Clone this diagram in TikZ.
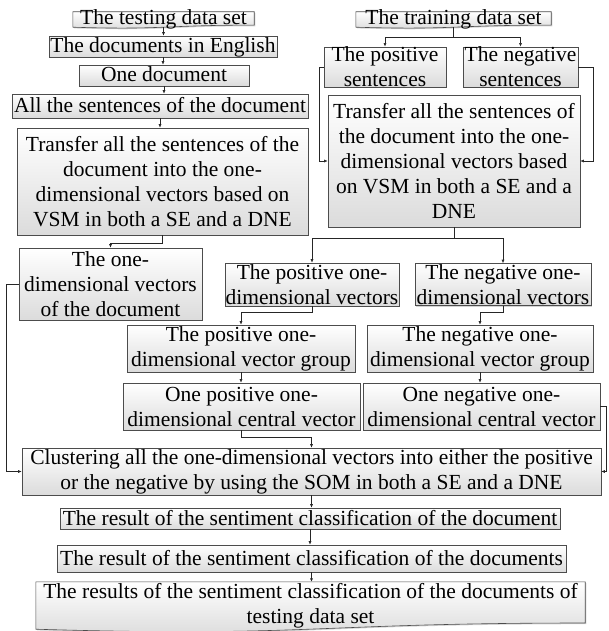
\documentclass[tikz,border=0pt]{standalone}
\usepackage{fontspec}
\setmainfont{Liberation Serif}
\usetikzlibrary{arrows.meta,shadows,backgrounds,calc}

\begin{document}
\begin{tikzpicture}[x=1pt, y=-1pt,
	every node/.style={font=\fontsize{21.5}{25}\selectfont, align=center, inner sep=0pt},
	box/.style={draw=black!70, line width=0.6pt, top color=white, bottom color=black!14,
		drop shadow={shadow xshift=1.2pt, shadow yshift=-1.2pt, opacity=0.35}},
	one/.style={text height=16pt, text depth=3pt},
	doc/.style={text height=13pt, text depth=2pt},
	line/.style={draw=black!85, line width=0.6pt, -{Latex[length=3.5pt,width=3pt]}}]
	\useasboundingbox (0,0) rectangle (608,631);
	
	\node[doc, minimum width=181, minimum height=15] (ts) at (163.5,19.5) {The testing data set};
	\node[box, one, minimum width=228, minimum height=21] (en) at (163,46.5) {The documents in English};
	\node[box, one, minimum width=170, minimum height=21] (od) at (164,75.5) {One document};
	\node[box, one, minimum width=296, minimum height=24] (al) at (160,106) {All the sentences of the document};
	\node[box, minimum width=291, minimum height=107] (tl) at (162.5,181.5) {Transfer all the sentences of the\\document into the one-\\dimensional vectors based on\\VSM in both a SE and a DNE};
	\node[box, minimum width=183, minimum height=72] (ov) at (110.5,284) {The one-\\dimensional vectors\\of the document};
	
	\node[doc, minimum width=195, minimum height=15] (tr) at (453.5,19.5) {The training data set};
	\node[box, minimum width=122, minimum height=40] (ps) at (385,67) {The positive\\sentences};
	\node[box, minimum width=115, minimum height=40] (ns) at (520.5,67) {The negative\\sentences};
	\node[box, minimum width=252, minimum height=132] (trr) at (454,161) {Transfer all the sentences of\\the document into the one-\\dimensional vectors based\\on VSM in both a SE and a\\DNE};
	\node[box, minimum width=174, minimum height=43] (pv) at (312,284.5) {The positive one-\\dimensional vectors};
	\node[box, minimum width=176, minimum height=42] (nv) at (503,284.5) {The negative one-\\dimensional vectors};
	\node[box, minimum width=228, minimum height=47] (pg) at (241,348.5) {The positive one-\\dimensional vector group};
	\node[box, minimum width=226, minimum height=47] (ng) at (480,348.5) {The negative one-\\dimensional vector group};
	\node[box, minimum width=237, minimum height=47] (pc) at (241.5,406.5) {One positive one-\\dimensional central vector};
	\node[box, minimum width=237, minimum height=47] (nc) at (481.5,406.5) {One negative one-\\dimensional central vector};
	
	\node[box, minimum width=579, minimum height=47] (cl) at (311.5,471.5) {Clustering all the one-dimensional vectors into either the positive\\or the negative by using the SOM in both a SE and a DNE};
	\node[box, one, minimum width=500, minimum height=21] (rd) at (310,518.5) {The result of the sentiment classification of the document};
	\node[box, one, minimum width=509, minimum height=27] (rs) at (311.5,558.5) {The result of the sentiment classification of the documents};
	\node[minimum width=549, minimum height=47] (rr) at (310.5,605.5) {The results of the sentiment classification of the documents of\\testing data set};
	
	\begin{scope}[on background layer]
		\foreach \n/\r/\p in {ts/2.1/2.8, tr/2.1/2.8, rr/6.2/8.1}
			\draw[box] (\n.north west) -- (\n.north east) -- ([yshift=\r pt]\n.south east)
				.. controls ([yshift=\r pt]\n.south) and ([yshift=-\p pt]\n.south) .. (\n.south west) -- cycle;
	\end{scope}
	
	\foreach \a/\b in {ts/en, en/od, od/al, al/tl, pg/pc, ng/nc, cl/rd, rd/rs, rs/rr}
		\draw[line] (\a.south) -- (\a.south |- \b.north);
	\draw[line] (tl.south) -- ++(0,8) -| (ov.north);
	\draw[line] (ov.west) -- ++(-12,0) |- (cl.west);
	\draw[line] (tr.south) -- ++(0,10) -| (ps.north);
	\draw[line] (tr.south) -- ++(0,10) -| (ns.north);
	\draw[line] (ps.west) -- ++(-4,0) |- (trr.west);
	\draw[line] (ns.east) -- ++(15,0) |- (trr.east);
	\draw[line] (trr.south) -- ++(0,11) -| (pv.north);
	\draw[line] (trr.south) -- ++(0,11) -| (nv.north);
	\draw[line] (pv.south) -- ++(0,6) -| (pg.north);
	\draw[line] (nv.south) -- ++(0,6) -| (ng.north);
	\draw[line] (pc.south) -- ++(0,7) -| (cl.north);
	\draw[line] (nc.east) -- ++(6,0) |- (cl.east);
\end{tikzpicture}
\end{document}
